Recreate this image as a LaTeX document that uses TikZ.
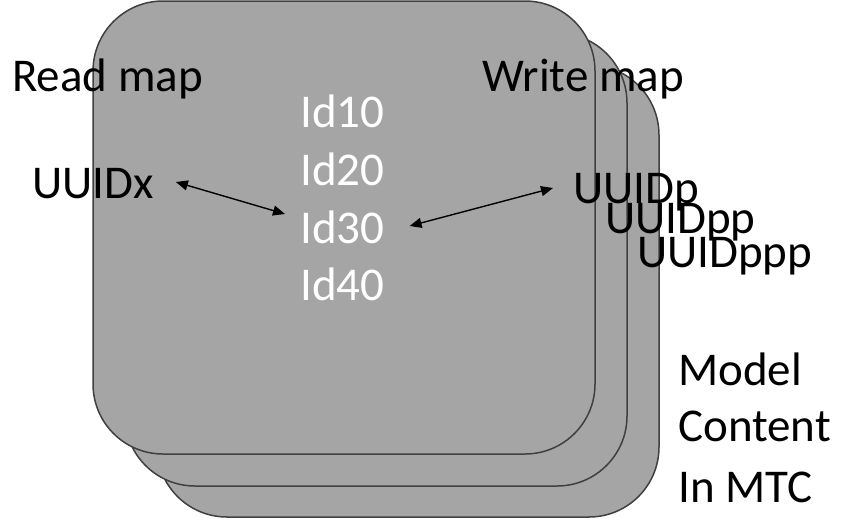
\documentclass[tikz,border=0pt]{standalone}
\usepackage{fontspec}
\setmainfont{Carlito}
\usetikzlibrary{arrows.meta,calc}
\definecolor{cardfill}{HTML}{A5A5A5}
\definecolor{cardline}{HTML}{404040}
\tikzset{
  card/.style={fill=cardfill,draw=cardline,line width=1.5pt,rounded corners=70pt},
  lbl/.style={inner sep=0pt,anchor=base west,font=\fontsize{47}{58}\selectfont,text=black},
  idlbl/.style={lbl,text=white},
  link/.style={{Triangle[length=12pt,width=10pt]}-{Triangle[length=12pt,width=10pt]},line width=1.4pt,black}
}
\begin{document}
\begin{tikzpicture}[x=1pt,y=-1pt]
\useasboundingbox (0,0) rectangle (846,522);
\draw[card] (157,65) rectangle (659,517);
\draw[card] (125,33) rectangle (627,486);
\draw[card] (93,1) rectangle (595,454);
\node[lbl] (read) at (12,91) {Read map};
\node[lbl] (write) at (482,91) {Write map};
\node[lbl] (ux) at (32,198) {UUIDx};
\node[idlbl] (id10) at (300,127) {Id10};
\node[idlbl] (id20) at (300,185) {Id20};
\node[idlbl] (id30) at (300,243) {Id30};
\node[idlbl] (id40) at (300,300) {Id40};
\node[lbl] (up) at (573,203) {UUIDp};
\node[lbl] (upp) at (605,233) {UUIDpp};
\node[lbl] (uppp) at (637,267) {UUIDppp};
\node[lbl] (model) at (678,385) {Model};
\node[lbl] (content) at (678,441) {Content};
\node[lbl] (inmtc) at (678,502) {In MTC};
\coordinate (a1) at ($(ux.base east)+(22,-16)$);
\coordinate (a2) at ($(id30.base west)+(-15,-29)$);
\coordinate (b1) at ($(id30.base east)+(25,-17)$);
\coordinate (b2) at ($(up.base west)+(-20,-15)$);
\draw[link] (a1) -- (a2);
\draw[link] (b1) -- (b2);
\end{tikzpicture}
\end{document}
